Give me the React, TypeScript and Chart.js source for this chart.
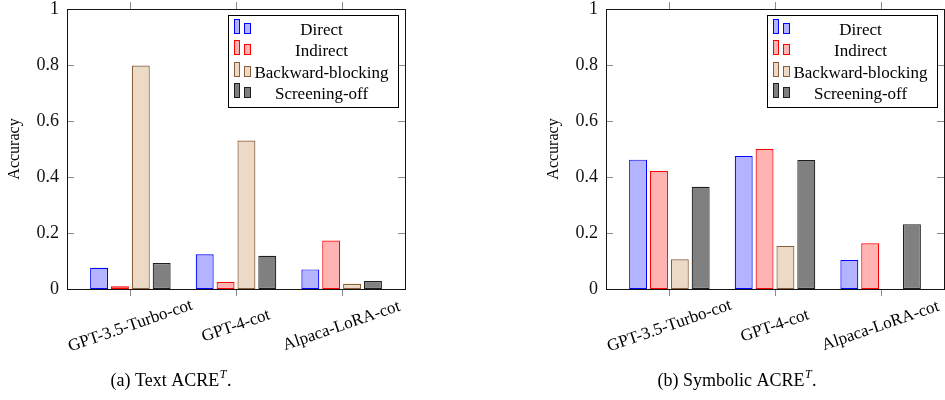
import React, { useEffect, useRef } from 'react';
import { Chart, registerables } from 'chart.js';

Chart.register(...registerables);

// ---------- data ----------
const categories = ['GPT-3.5-Turbo-cot', 'GPT-4-cot', 'Alpaca-LoRA-cot'];
const seriesNames = ['Direct', 'Indirect', 'Backward-blocking', 'Screening-off'];

// (a) Text ACRE^T
const textDirect = [0.076, 0.124, 0.07];
const textIndirect = [0.01, 0.025, 0.173];
const textBackward = [0.798, 0.53, 0.019];
const textScreening = [0.093, 0.119, 0.029];

// (b) Symbolic ACRE^T
const symDirect = [0.462, 0.475, 0.104];
const symIndirect = [0.421, 0.5, 0.163];
const symBackward = [0.106, 0.154, 0];
const symScreening = [0.365, 0.461, 0.231];

const yMin = 0;
const yMax = 1;
const yStep = 0.2;

// ---------- styles ----------
const FONT = "'Liberation Serif', 'Times New Roman', serif";
const fills = ['rgb(179,179,255)', 'rgb(255,179,179)', 'rgb(236,217,198)', 'rgb(128,128,128)'];
const borders = ['rgb(0,0,255)', 'rgb(255,0,0)', 'rgb(135,95,58)', 'rgb(30,30,30)'];

const decorPlugin = {
  id: 'decor',
  afterDraw(chart: any, _args: any, opts: any) {
    const { ctx, chartArea: a, scales } = chart;
    const xs = scales.x;
    const ys = scales.y;
    ctx.save();

    // tick marks
    ctx.strokeStyle = '#8a8a8a';
    ctx.lineWidth = 1;
    ctx.beginPath();
    ys.ticks.forEach((t: any) => {
      const py = Math.round(ys.getPixelForValue(t.value)) + 0.5;
      ctx.moveTo(a.left, py);
      ctx.lineTo(a.left + 7, py);
      ctx.moveTo(a.right, py);
      ctx.lineTo(a.right - 7, py);
    });
    categories.forEach((_c, i) => {
      const px = Math.round(xs.getPixelForValue(i)) + 0.5;
      ctx.moveTo(px, a.top);
      ctx.lineTo(px, a.top - 7);
      ctx.moveTo(px, a.bottom);
      ctx.lineTo(px, a.bottom + 7);
    });
    ctx.stroke();

    // frame
    ctx.strokeStyle = '#151515';
    ctx.lineWidth = 1;
    ctx.strokeRect(
      Math.round(a.left) + 0.5,
      Math.round(a.top) + 0.5,
      Math.round(a.right - a.left),
      Math.round(a.bottom - a.top)
    );

    // rotated, centred x labels
    ctx.fillStyle = '#000';
    ctx.font = `17px ${FONT}`;
    ctx.textAlign = 'center';
    ctx.textBaseline = 'middle';
    categories.forEach((c, i) => {
      const px = xs.getPixelForValue(i);
      ctx.save();
      ctx.translate(px, a.bottom + 37);
      ctx.rotate((-19 * Math.PI) / 180);
      ctx.fillText(c, 0, 0);
      ctx.restore();
    });

    // legend
    const bw = 170;
    const bh = 92;
    const bx = Math.round(a.right - 7 - bw) + 0.5;
    const by = Math.round(a.top + 6) + 0.5;
    ctx.fillStyle = '#fff';
    ctx.fillRect(bx, by, bw, bh);
    ctx.strokeStyle = '#000';
    ctx.lineWidth = 1;
    ctx.strokeRect(bx, by, bw, bh);
    ctx.font = `17px ${FONT}`;
    ctx.textAlign = 'center';
    ctx.textBaseline = 'alphabetic';
    chart.data.datasets.forEach((ds: any, k: number) => {
      const base = by + 19.5 + k * 21.3;
      ctx.fillStyle = ds.backgroundColor;
      ctx.strokeStyle = ds.borderColor;
      ctx.lineWidth = 1;
      const i1x = Math.round(bx + 5) + 0.5;
      const i2x = Math.round(bx + 15) + 0.5;
      const bot = Math.round(base - 2) + 0.5;
      ctx.fillRect(i1x, bot - 14, 5, 14);
      ctx.strokeRect(i1x, bot - 14, 5, 14);
      ctx.fillRect(i2x, bot - 10, 6, 10);
      ctx.strokeRect(i2x, bot - 10, 6, 10);
      ctx.fillStyle = '#000';
      ctx.fillText(ds.label, bx + 93, base);
    });

    // caption
    const cap = opts.caption;
    if (cap) {
      const mainFont = `18px ${FONT}`;
      const supFont = `italic 12px ${FONT}`;
      ctx.textAlign = 'left';
      ctx.textBaseline = 'alphabetic';
      ctx.font = mainFont;
      const w1 = ctx.measureText(cap.text).width;
      const w3 = ctx.measureText('.').width;
      ctx.font = supFont;
      const w2 = ctx.measureText('T').width + 1;
      const start = cap.cx - (w1 + w2 + w3) / 2;
      ctx.fillStyle = '#000';
      ctx.font = mainFont;
      ctx.fillText(cap.text, start, cap.y);
      ctx.font = supFont;
      ctx.fillText('T', start + w1 + 0.5, cap.y - 8);
      ctx.font = mainFont;
      ctx.fillText('.', start + w1 + w2, cap.y);
    }
    ctx.restore();
  },
};

function BarPanel(props: { left: number; series: number[][]; caption: string; capX: number }) {
  const ref = useRef<HTMLCanvasElement | null>(null);
  useEffect(() => {
    const datasets = props.series.map((vals, k) => ({
      label: seriesNames[k],
      data: vals.map((v, i) => ({ x: i, y: v })),
      backgroundColor: fills[k],
      borderColor: borders[k],
      borderWidth: 1.2,
      borderSkipped: false,
      categoryPercentage: 0.79,
      barPercentage: 0.86,
    }));
    const chart = new Chart(ref.current as HTMLCanvasElement, {
      type: 'bar',
      data: { datasets } as any,
      plugins: [decorPlugin],
      options: {
        animation: false,
        responsive: false,
        events: [],
        layout: { padding: { left: 0, top: 9, right: 1, bottom: 0 } },
        plugins: {
          legend: { display: false },
          tooltip: { enabled: false },
          decor: { caption: { text: props.caption, cx: props.capX, y: 386 } },
        } as any,
        scales: {
          x: {
            type: 'linear',
            min: -0.6,
            max: 2.6,
            offset: false,
            grid: { display: false },
            border: { display: false },
            ticks: { display: false },
            afterBuildTicks: (s: any) => {
              s.ticks = categories.map((_c, i) => ({ value: i }));
            },
            afterFit: (s: any) => {
              s.height = 111;
              s.paddingLeft = 0;
              s.paddingRight = 0;
            },
          },
          y: {
            type: 'linear',
            min: yMin,
            max: yMax,
            grid: { display: false, drawTicks: false },
            border: { display: false },
            ticks: {
              stepSize: yStep,
              padding: 8,
              color: '#111',
              font: { family: FONT, size: 18 },
              callback: (v: any) => String(Math.round(Number(v) * 10) / 10),
            },
            title: {
              display: true,
              text: 'Accuracy',
              color: '#000',
              font: { family: FONT, size: 16 },
              padding: { top: 5, bottom: 0 },
            },
            afterFit: (s: any) => {
              s.width = 67;
              s.paddingTop = 0;
              s.paddingBottom = 0;
            },
          },
        } as any,
      },
    });
    return () => chart.destroy();
  }, []);
  return (
    <canvas
      ref={ref}
      width={406}
      height={400}
      style={{ position: 'absolute', left: props.left, top: 0, width: 406, height: 400 }}
    />
  );
}

export default function App() {
  return (
    <div style={{ position: 'absolute', left: 0, top: 0, width: 945, height: 400, background: '#fff', overflow: 'hidden' }}>
      <BarPanel
        left={0}
        series={[textDirect, textIndirect, textBackward, textScreening]}
        caption="(a) Text ACRE"
        capX={171}
      />
      <BarPanel
        left={539}
        series={[symDirect, symIndirect, symBackward, symScreening]}
        caption="(b) Symbolic ACRE"
        capX={198}
      />
    </div>
  );
}
